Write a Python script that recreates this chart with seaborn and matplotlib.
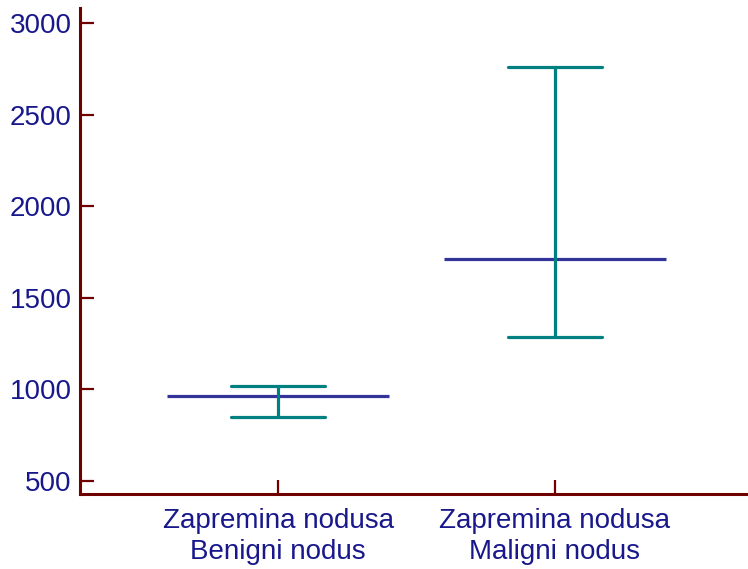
import matplotlib
matplotlib.use("Agg")
import matplotlib.pyplot as plt
import seaborn as sns
import pandas as pd

categories = ["Zapremina nodusa\nBenigni nodus", "Zapremina nodusa\nMaligni nodus"]
means = [963, 1713]
lower = [850, 1285]
upper = [1018, 2761]
yticks = [500, 1000, 1500, 2000, 2500, 3000]

sns.set_theme(style="white")
plt.rcParams["font.family"] = ["Liberation Sans", "DejaVu Sans"]

rows = []
for c, lo, m, hi in zip(categories, lower, means, upper):
    for v in (lo, m, hi):
        rows.append({"cat": c, "val": v})
df = pd.DataFrame(rows)

fig = plt.figure(figsize=(7.48, 5.69), dpi=100)
ax = fig.add_axes([0.107, 0.131, 0.893, 0.855])

teal = "#008080"
navy = "#333399"
spine_c = "#700000"
txt_c = "#18188c"

sns.pointplot(data=df, x="cat", y="val", estimator="median",
              errorbar=lambda x: (x.min(), x.max()), capsize=0.34,
              color=teal, linestyle="none", marker="",
              err_kws={"linewidth": 2.3, "color": teal}, ax=ax)

xs = list(range(len(categories)))
ax.hlines(means, [x - 0.4 for x in xs], [x + 0.4 for x in xs],
          colors=navy, linewidth=2.3, zorder=1)

ax.set_xlim(-0.715, 1.697)
ax.set_ylim(425, 3082)
ax.set_yticks(yticks)
ax.set_yticklabels([str(t) for t in yticks])
ax.set_xticks(xs)
ax.set_xticklabels(categories)
ax.set_xlabel("")
ax.set_ylabel("")

for s in ["top", "right"]:
    ax.spines[s].set_visible(False)
for s in ["left", "bottom"]:
    ax.spines[s].set_color(spine_c)
    ax.spines[s].set_linewidth(2.2)

ax.tick_params(axis="y", direction="in", length=10, width=1.6, color=spine_c,
               labelsize=20, labelcolor=txt_c, pad=6, left=True)
ax.tick_params(axis="x", direction="in", length=10, width=1.6, color=spine_c,
               labelsize=20, labelcolor=txt_c, pad=10, bottom=True)
for lab in ax.get_xticklabels():
    lab.set_linespacing(1.25)

fig.savefig("out.png", dpi=100)
